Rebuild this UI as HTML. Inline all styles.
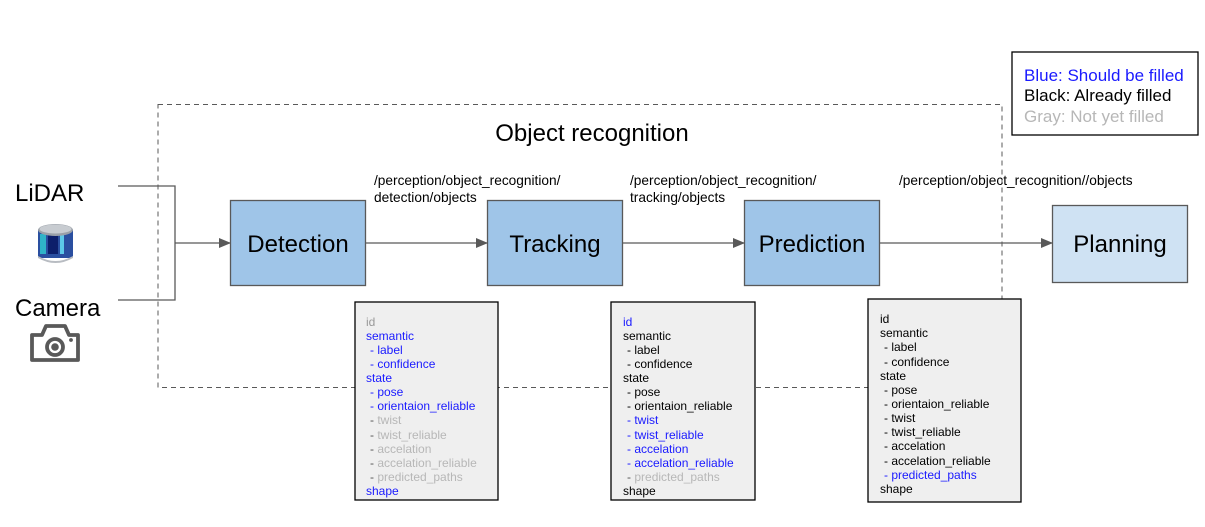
<!DOCTYPE html>
<html><head><meta charset="utf-8"><style>
html,body{margin:0;padding:0;background:#fff;}
svg{display:block;font-family:"Liberation Sans",sans-serif;}
</style></head><body>
<svg width="1205" height="527" viewBox="0 0 1205 527" xmlns="http://www.w3.org/2000/svg">
<defs>
<marker id="ah" markerWidth="12" markerHeight="10" refX="11" refY="5" orient="auto" markerUnits="userSpaceOnUse">
<path d="M0,0 L12,5 L0,10 Z" fill="#595959"/>
</marker>
</defs>
<rect x="158" y="104.5" width="844" height="283" fill="none" stroke="#595959" stroke-width="1" stroke-dasharray="5,4"/>
<text x="592" y="141" font-size="24" text-anchor="middle" fill="#000">Object recognition</text>

<rect x="1012" y="52" width="186" height="83" fill="#fff" stroke="#000" stroke-width="1.3"/>
<text x="1024" y="81" font-size="17" fill="#1a1aff">Blue: Should be filled</text>
<text x="1024" y="101" font-size="17" fill="#000">Black: Already filled</text>
<text x="1024" y="122" font-size="17" fill="#b7b7b7">Gray: Not yet filled</text>

<text x="15" y="201" font-size="24" fill="#000">LiDAR</text>
<text x="15" y="316" font-size="24" fill="#000">Camera</text>
<g>
<rect x="38" y="230" width="35" height="28" fill="#2a4fa0"/>
<rect x="40" y="234" width="6" height="20" fill="#2fb3c8"/>
<rect x="60" y="234" width="4" height="20" fill="#5cc9e8"/>
<rect x="48" y="234" width="10" height="20" fill="#0d1f6b"/>
<ellipse cx="55.5" cy="230" rx="17.5" ry="6" fill="#9aa0a8"/>
<ellipse cx="55.5" cy="229" rx="16" ry="4.5" fill="#c8ccd1"/>
<path d="M38,256 Q55.5,266 73,256 L73,258 Q55.5,268 38,258Z" fill="#b8bcc2"/>
</g>
<g fill="none" stroke="#595959" stroke-width="3.8">
<path d="M32,335 L42,335 L46,326 L65,326 L69,335 L78,335 L78,360 L32,360 Z" stroke-linejoin="round"/>
<circle cx="55" cy="347" r="8"/>
</g>
<circle cx="55" cy="347" r="3.8" fill="#595959"/>
<circle cx="71" cy="340" r="1.9" fill="#595959"/>

<polyline points="118,186 175,186 175,300 118,300" fill="none" stroke="#595959" stroke-width="1.3"/>
<line x1="175" y1="243" x2="230" y2="243" stroke="#595959" stroke-width="1.3" marker-end="url(#ah)"/>

<rect x="230.5" y="200.5" width="135" height="85" fill="#9fc5e8" stroke="#595959" stroke-width="1.3"/>
<text x="298" y="252" font-size="24" text-anchor="middle">Detection</text>
<rect x="487.5" y="200.5" width="135" height="85" fill="#9fc5e8" stroke="#595959" stroke-width="1.3"/>
<text x="555" y="252" font-size="24" text-anchor="middle">Tracking</text>
<rect x="744.5" y="200.5" width="135" height="85" fill="#9fc5e8" stroke="#595959" stroke-width="1.3"/>
<text x="812" y="252" font-size="24" text-anchor="middle">Prediction</text>
<rect x="1052.5" y="205.5" width="135" height="77" fill="#cfe2f3" stroke="#595959" stroke-width="1.3"/>
<text x="1120" y="252" font-size="24" text-anchor="middle">Planning</text>

<line x1="366" y1="243" x2="487" y2="243" stroke="#595959" stroke-width="1.3" marker-end="url(#ah)"/>
<line x1="623" y1="243" x2="744" y2="243" stroke="#595959" stroke-width="1.3" marker-end="url(#ah)"/>
<line x1="880" y1="243" x2="1052" y2="243" stroke="#595959" stroke-width="1.3" marker-end="url(#ah)"/>

<g font-size="13.7" fill="#000">
<text x="374" y="185">/perception/object_recognition/</text>
<text x="374" y="202">detection/objects</text>
<text x="630" y="185">/perception/object_recognition/</text>
<text x="630" y="202">tracking/objects</text>
<text x="899" y="185">/perception/object_recognition//objects</text>
</g>

<rect x="355" y="302" width="143" height="198" fill="#efefef" stroke="#000" stroke-width="1.3"/>
<g font-size="12">
<text x="366" y="326" fill="#999">id</text>
<text x="366" y="340" fill="#1a1aff">semantic</text>
<text x="370" y="354" fill="#1a1aff">- label</text>
<text x="370" y="368" fill="#1a1aff">- confidence</text>
<text x="366" y="382" fill="#1a1aff">state</text>
<text x="370" y="396" fill="#1a1aff">- pose</text>
<text x="370" y="410" fill="#1a1aff">- orientaion_reliable</text>
<text x="370" y="424" fill="#b7b7b7"><tspan fill="#555">- </tspan>twist</text>
<text x="370" y="439" fill="#b7b7b7"><tspan fill="#555">- </tspan>twist_reliable</text>
<text x="370" y="453" fill="#b7b7b7"><tspan fill="#555">- </tspan>accelation</text>
<text x="370" y="467" fill="#b7b7b7"><tspan fill="#555">- </tspan>accelation_reliable</text>
<text x="370" y="481" fill="#b7b7b7"><tspan fill="#555">- </tspan>predicted_paths</text>
<text x="366" y="495" fill="#1a1aff">shape</text>
</g>

<rect x="611" y="302" width="144" height="198" fill="#efefef" stroke="#000" stroke-width="1.3"/>
<g font-size="12">
<text x="623" y="326" fill="#1a1aff">id</text>
<text x="623" y="340" fill="#000">semantic</text>
<text x="627" y="354" fill="#000">- label</text>
<text x="627" y="368" fill="#000">- confidence</text>
<text x="623" y="382" fill="#000">state</text>
<text x="627" y="396" fill="#000">- pose</text>
<text x="627" y="410" fill="#000">- orientaion_reliable</text>
<text x="627" y="424" fill="#1a1aff">- twist</text>
<text x="627" y="439" fill="#1a1aff">- twist_reliable</text>
<text x="627" y="453" fill="#1a1aff">- accelation</text>
<text x="627" y="467" fill="#1a1aff">- accelation_reliable</text>
<text x="627" y="481" fill="#b7b7b7"><tspan fill="#555">- </tspan>predicted_paths</text>
<text x="623" y="495" fill="#000">shape</text>
</g>

<rect x="868" y="299" width="153" height="203" fill="#efefef" stroke="#000" stroke-width="1.3"/>
<g font-size="12">
<text x="880" y="323" fill="#000">id</text>
<text x="880" y="337" fill="#000">semantic</text>
<text x="884" y="351" fill="#000">- label</text>
<text x="884" y="366" fill="#000">- confidence</text>
<text x="880" y="380" fill="#000">state</text>
<text x="884" y="394" fill="#000">- pose</text>
<text x="884" y="408" fill="#000">- orientaion_reliable</text>
<text x="884" y="422" fill="#000">- twist</text>
<text x="884" y="436" fill="#000">- twist_reliable</text>
<text x="884" y="450" fill="#000">- accelation</text>
<text x="884" y="465" fill="#000">- accelation_reliable</text>
<text x="884" y="479" fill="#1a1aff">- predicted_paths</text>
<text x="880" y="493" fill="#000">shape</text>
</g>
</svg>
</body></html>
